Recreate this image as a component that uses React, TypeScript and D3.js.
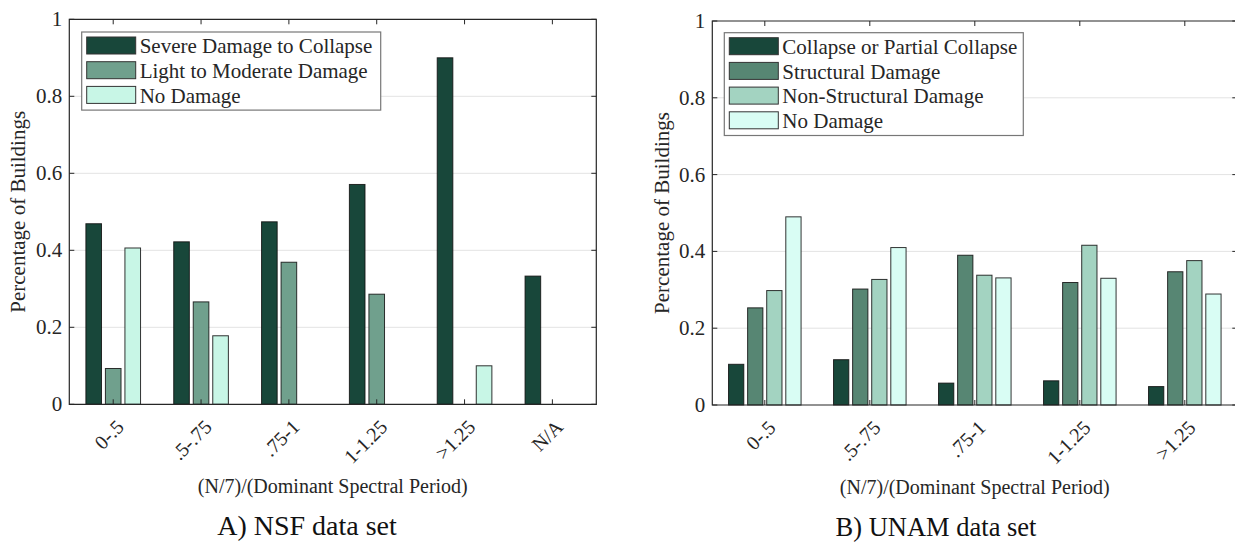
import React from "react";
import * as d3 from "d3";

// NSF data set
const nsfCategories = ["0-.5", ".5-.75", ".75-1", "1-1.25", ">1.25", "N/A"];
const nsfSeries = ["Severe Damage to Collapse", "Light to Moderate Damage", "No Damage"];
const nsfSevere = [0.469, 0.422, 0.474, 0.571, 0.9, 0.333];
const nsfLight = [0.093, 0.266, 0.369, 0.286, 0, 0];
const nsfNone = [0.406, 0.178, 0, 0, 0.1, 0];
const nsfColors = ["#18473a", "#70a08d", "#c8f6e6"];

// UNAM data set
const unamCategories = ["0-.5", ".5-.75", ".75-1", "1-1.25", ">1.25"];
const unamSeries = ["Collapse or Partial Collapse", "Structural Damage", "Non-Structural Damage", "No Damage"];
const unamCollapse = [0.106, 0.118, 0.057, 0.063, 0.048];
const unamStructural = [0.253, 0.302, 0.39, 0.319, 0.347];
const unamNonStructural = [0.298, 0.327, 0.338, 0.416, 0.376];
const unamNone = [0.49, 0.41, 0.331, 0.33, 0.289];
const unamColors = ["#18473a", "#578673", "#a3d3c1", "#d9fdf4"];

const yTicks = [0, 0.2, 0.4, 0.6, 0.8, 1];
const ff = { fontFamily: "Liberation Serif" };

type PanelProps = {
  left: number; right: number; top: number; bottom: number;
  categories: string[]; series: string[]; values: number[][]; colors: string[];
  legend: { x: number; y: number; w: number };
  ylabelX: number; title: string; titleX: number; titleSize: number;
};

function Panel(p: PanelProps) {
  const n = p.series.length;
  const x = d3.scaleBand<string>().domain(p.categories).range([p.left, p.right]).padding(0);
  const y = d3.scaleLinear().domain([0, 1]).range([p.bottom, p.top]);
  // MATLAB grouped bar layout
  const groupW = Math.min(0.8, n / (n + 1.5));
  const inner = d3.scaleBand<number>().domain(d3.range(n)).range([-groupW / 2, groupW / 2]);
  const unit = x.bandwidth();
  const barW = inner.bandwidth() * 0.8 * unit;
  const cx = (c: string) => (x(c) as number) + unit / 2;
  const lh = 24.7;
  return (
    <g fill="#262626">
      {yTicks.filter(t => t > 0 && t < 1).map(t => (
        <line key={"g" + t} x1={p.left} x2={p.right} y1={y(t)} y2={y(t)} stroke="#e3e3e3" strokeWidth={1} />
      ))}
      {p.values.map((vals, s) =>
        vals.map((v, i) => {
          const c = cx(p.categories[i]) + ((inner(s) as number) + inner.bandwidth() / 2) * unit;
          return (
            <rect key={s + "-" + i} x={c - barW / 2} y={y(v)} width={barW} height={y(0) - y(v)}
              fill={p.colors[s]} stroke="#111" strokeOpacity={0.85} strokeWidth={1} />
          );
        })
      )}
      {/* frame */}
      <path d={`M${p.left},${p.top}H${p.right}V${p.bottom}H${p.left}Z`} fill="none" stroke="#262626" strokeWidth={1.2} />
      {yTicks.map(t => (
        <g key={"y" + t}>
          <line x1={p.left} x2={p.left + 5} y1={y(t)} y2={y(t)} stroke="#262626" />
          <line x1={p.right} x2={p.right - 5} y1={y(t)} y2={y(t)} stroke="#262626" />
          <text x={p.left - 7} y={y(t)} dy="0.33em" textAnchor="end" fontSize={21} style={ff}>{t === 0 || t === 1 ? String(t) : t.toFixed(1)}</text>
        </g>
      ))}
      {p.categories.map(c => (
        <g key={"x" + c}>
          <line x1={cx(c)} x2={cx(c)} y1={p.bottom} y2={p.bottom - 5} stroke="#262626" />
          <line x1={cx(c)} x2={cx(c)} y1={p.top} y2={p.top + 5} stroke="#262626" />
          <text transform={`translate(${cx(c) + 7},${p.bottom + 19}) rotate(-45)`} dy="0.35em" textAnchor="end" fontSize={20} style={ff}>{c}</text>
        </g>
      ))}
      <text transform={`translate(${p.ylabelX},${(p.top + p.bottom) / 2}) rotate(-90)`} textAnchor="middle" dy="0.35em" fontSize={21} style={ff}>Percentage of Buildings</text>
      <text x={(p.left + p.right) / 2} y={p.bottom + 89} textAnchor="middle" fontSize={20} style={ff}>(N/7)/(Dominant Spectral Period)</text>
      <text x={p.titleX} y={p.bottom + 131} textAnchor="middle" fontSize={p.titleSize} fill="#111" style={ff}>{p.title}</text>
      {/* legend */}
      <rect x={p.legend.x} y={p.legend.y} width={p.legend.w} height={n * lh + 4} fill="#fff" stroke="#777" strokeWidth={1.2} />
      {p.series.map((s, i) => (
        <g key={"l" + s}>
          <rect x={p.legend.x + 5} y={p.legend.y + 5 + i * lh} width={49} height={17} fill={p.colors[i]} stroke="#333" />
          <text x={p.legend.x + 58} y={p.legend.y + 14 + i * lh} dy="0.35em" fontSize={21} style={ff}>{s}</text>
        </g>
      ))}
    </g>
  );
}

export default function App() {
  return (
    <div style={{ position: "absolute", left: 0, top: 0 }}>
      <svg width={1235} height={543} style={{ display: "block", background: "#fff" }}>
        <Panel left={69.3} right={596.3} top={19.3} bottom={404.3}
          categories={nsfCategories} series={nsfSeries} values={[nsfSevere, nsfLight, nsfNone]} colors={nsfColors}
          legend={{ x: 81.7, y: 32, w: 299 }} ylabelX={18} title="A) NSF data set" titleX={307} titleSize={28} />
        <Panel left={712.3} right={1237.3} top={21} bottom={405}
          categories={unamCategories} series={unamSeries} values={[unamCollapse, unamStructural, unamNonStructural, unamNone]} colors={unamColors}
          legend={{ x: 724.3, y: 32.7, w: 299 }} ylabelX={662} title="B) UNAM data set" titleX={936} titleSize={26.5} />
      </svg>
    </div>
  );
}
